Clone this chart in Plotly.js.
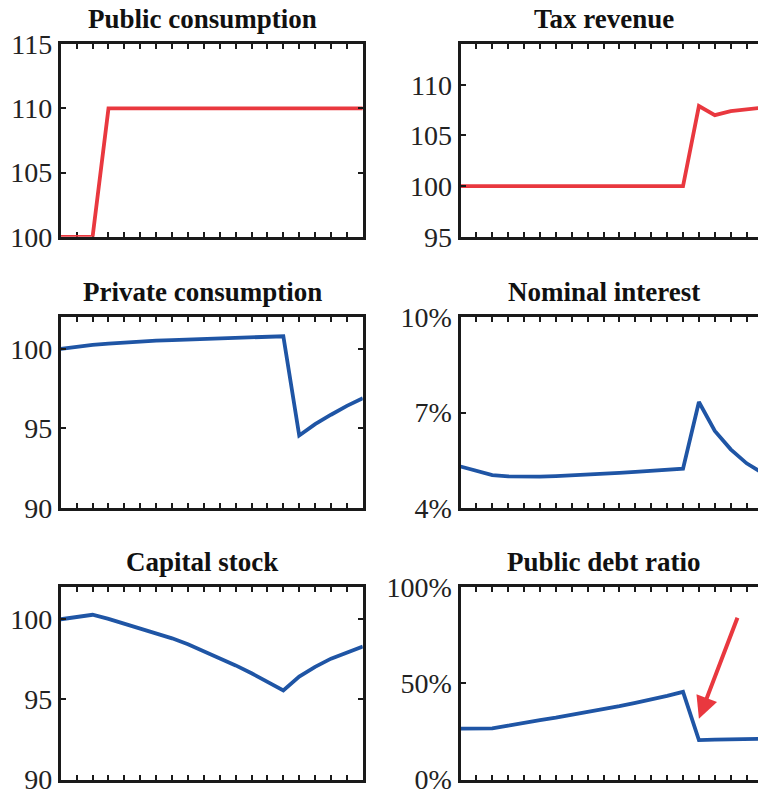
<!DOCTYPE html>
<html>
<head>
<meta charset="utf-8">
<script src="https://cdn.plot.ly/plotly-3.0.1.min.js"></script>
<style>
html,body{margin:0;padding:0;overflow:hidden;background:#fff;}
#chart{width:800px;height:810px;}
</style>
</head>
<body>
<div id="chart"></div>
<script>
// ---- data ----
const periods = [0,1,2,3,4,5,6,7,8,9,10,11,12,13,14,15,16,17,18,19];
const publicConsumption = [100,100,100,110,110,110,110,110,110,110,110,110,110,110,110,110,110,110,110,110];
const taxRevenue = [100,100,100,100,100,100,100,100,100,100,100,100,100,100,100,107.9,107.0,107.4,107.6,107.75];
const privateConsumption = [100,100.15,100.26,100.34,100.41,100.47,100.52,100.56,100.6,100.64,100.67,100.71,100.74,100.77,100.8,94.55,95.27,95.86,96.42,96.9];
const nominalInterest = [5.30,5.15,5.03,4.99,4.98,4.98,5.0,5.02,5.04,5.07,5.1,5.13,5.16,5.19,5.23,7.33,6.42,5.84,5.40,5.1];
const capitalStock = [100,100.14,100.28,100.02,99.73,99.45,99.16,98.81,98.44,98.02,97.59,97.12,96.63,96.11,95.56,96.42,97.03,97.54,97.93,98.3];
const publicDebtRatio = [26.5,26.5,26.6,28.0,29.6,30.9,32.2,33.6,35.1,36.6,38.2,39.9,41.6,43.5,45.6,20.5,20.7,20.9,21.1,21.2];

const titles = ["Public consumption","Tax revenue","Private consumption","Nominal interest","Capital stock","Public debt ratio"];
const series = [publicConsumption,taxRevenue,privateConsumption,nominalInterest,capitalStock,publicDebtRatio];
const yRanges = [[100,115],[95,114],[90,102],[4,10],[90,102],[0,100]];
const yTicks = [[100,105,110,115],[95,100,105,110],[90,95,100],[4,7,10],[90,95,100],[0,50,100]];
const yTickText = [["100","105","110","115"],["95","100","105","110"],["90","95","100"],["4%","7%","10%"],["90","95","100"],["0%","50%","100%"]];
const arrowTip = [15, 31.6];
const arrowTail = [17.46, 84.9];

// ---- styling / layout ----
const W = 800, H = 792, HT = 810;
const RED = "#E9383F", BLUE = "#1F55A5";
const colors = [RED,RED,BLUE,BLUE,BLUE,BLUE];
const colPx = [[60.8,362.8],[460.5,762.5]];
const rowPx = [[44.2,236.8],[317.2,507.8],[587.2,779.5]];
const titleX = [202, 604];
const titleY = [19, 292, 562];

const traces = [];
const layout = {
  width: W, height: HT,
  margin:{l:0,r:0,t:0,b:0},
  paper_bgcolor:"#fff", plot_bgcolor:"#fff",
  showlegend:false,
  font:{family:"Liberation Serif, serif", color:"#222"},
  annotations:[]
};

for (let i=0;i<6;i++){
  const r = Math.floor(i/2), c = i%2;
  const n = i+1;
  const xk = n===1 ? "xaxis" : "xaxis"+n;
  const yk = n===1 ? "yaxis" : "yaxis"+n;
  const xr = n===1 ? "x" : "x"+n;
  const yr = n===1 ? "y" : "y"+n;
  traces.push({
    x: periods, y: series[i], type:"scatter", mode:"lines",
    line:{color:colors[i], width:3.8},
    xaxis:xr, yaxis:yr, hoverinfo:"skip", cliponaxis:false
  });
  layout[xk] = {
    domain:[colPx[c][0]/W, colPx[c][1]/W],
    anchor:yr, range:[0,19], tickmode:"array", tickvals:periods,
    showticklabels:false, ticks:"inside", ticklen:5, tickwidth:2, tickcolor:"#1a1a1a",
    showline:true, linewidth:3, linecolor:"#1a1a1a", mirror:"allticks",
    showgrid:false, zeroline:false, fixedrange:true, layer:"below traces"
  };
  layout[yk] = {
    domain:[1-rowPx[r][1]/HT, 1-rowPx[r][0]/HT],
    anchor:xr, range:yRanges[i], tickmode:"array", tickvals:yTicks[i], ticktext:yTickText[i],
    ticks:"inside", ticklen:5, tickwidth:2, tickcolor:"#1a1a1a",
    showline:true, linewidth:3, linecolor:"#1a1a1a", mirror:"allticks",
    showgrid:false, zeroline:false, fixedrange:true, ticklabeloverflow:"allow",
    tickfont:{family:"Liberation Serif, serif", size:28, color:"#222"}
  };
  layout.annotations.push({
    text:"<b>"+titles[i]+"</b>", xref:"paper", yref:"paper",
    x:titleX[c]/W, y:1-titleY[r]/HT, xanchor:"center", yanchor:"middle",
    showarrow:false, font:{family:"Liberation Serif, serif", size:27, color:"#111"}
  });
}

layout.annotations.push({
  xref:"x6", yref:"y6", axref:"x6", ayref:"y6",
  x:arrowTip[0], y:arrowTip[1], ax:arrowTail[0], ay:arrowTail[1],
  showarrow:true, arrowhead:2, arrowsize:1.1, arrowwidth:4, arrowcolor:RED, text:""
});

Plotly.newPlot("chart", traces, layout, {staticPlot:true, displayModeBar:false});
</script>
</body>
</html>
